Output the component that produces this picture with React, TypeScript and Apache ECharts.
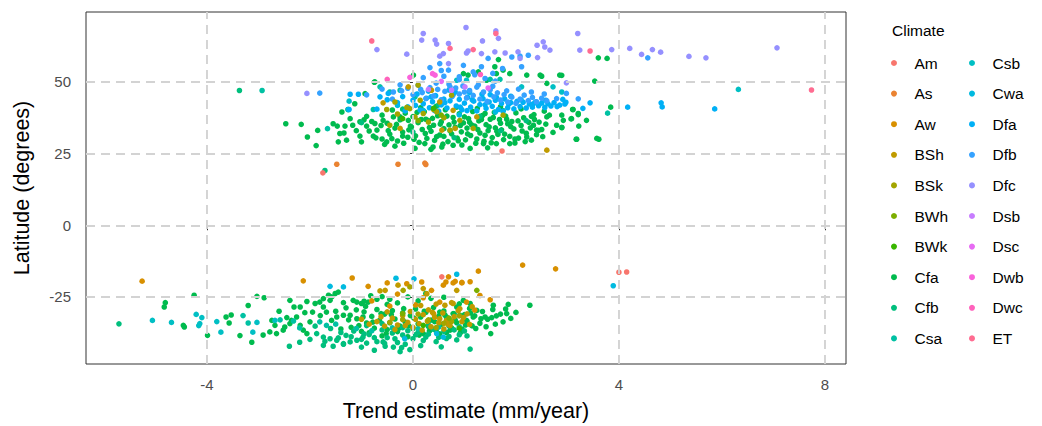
import React, { useEffect, useRef } from "react";
import * as echarts from "echarts";

const FONT = '"Liberation Sans", Arial, Helvetica, sans-serif';

const climates = ["Am","As","Aw","BSh","BSk","BWh","BWk","Cfa","Cfb","Csa","Csb","Cwa","Dfa","Dfb","Dfc","Dsb","Dsc","Dwb","Dwc","ET"];
const colors = ["#F8766D","#EA8331","#D89000","#C09B00","#A3A500","#7CAE00","#39B600","#00BB4E","#00BF7D","#00C1A3","#00BFC4","#00BAE0","#00B0F6","#35A2FF","#9590FF","#C77CFF","#E76BF3","#FA62DB","#FF62BC","#FF6C91"];

const xTicks = [-4, 0, 4, 8];
const yTicks = [-25, 0, 25, 50];

const Am = [[-1.75,18.3],[1.73,25.9],[0.56,-18.0],[4.0,-16.4],[4.15,-16.3]];
const As = [[-1.48,21.3],[-0.29,21.3],[0.23,21.7],[0.25,21.2]];
const Aw = [[-5.26,-19.5],[-2.13,-19.4],[-1.18,-18.4],[0.69,-18.0],[0.64,-19.8],[0.82,-19.6],[0.95,-19.9],[1.11,-19.7],[1.27,-16.0],[2.13,-13.9],[2.77,-15.2],[-0.87,-21.3],[-0.50,-20.1],[-0.12,-20.4],[0.17,-19.8],[0.36,-22.7],[0.59,-20.9],[0.78,-20.1],[0.95,-20.1],[1.04,-26.8],[0.52,-26.8],[1.3,-24.5],[1.5,-26.0],[-0.8,-26.4],[-0.3,-24.0],[0.2,-25.3],[0.05,-27.8],[-0.45,-28.2],[1.2,-29.6],[0.4,-30.8]];
const BSh = [[2.60,26.2],[-0.58,42.7],[-0.09,48.3],[0.36,47.1],[0.52,43.0],[0.78,40.1],[0.82,33.8],[-0.25,33.8],[0.56,33.2],[1.24,37.8],
  [-0.64,-22.9],[-0.54,-22.7],[-0.29,-20.9],[0.20,-22.1],[0.27,-23.9],[0.85,-22.7],[0.78,-27.3],[0.91,-29.1],[0.62,-27.9],
  [-0.7,-33.6],[-0.55,-35.2],[-0.4,-32.4],[-0.3,-34.8],[-0.2,-31.5],[-0.1,-33.9],[0.0,-35.6],[0.05,-32.8],[0.12,-34.3],[0.2,-31.2],[0.28,-33.5],[0.35,-35.4],[0.42,-32.1],[0.5,-34.0],[0.58,-30.6],[0.65,-33.2],[0.72,-35.0],[0.8,-31.9],[0.88,-29.8],[0.95,-33.6],[1.05,-30.9],[1.15,-28.4],[0.3,-29.5],[0.15,-28.0],[-0.5,-30.2],[-0.85,-34.5],[-1.0,-32.8],[0.6,-36.2],[0.45,-27.5],[0.75,-27.0],
  [-0.62,-31.9],[-0.35,-36.4],[-0.05,-30.1],[0.18,-36.6],[0.38,-30.4],[0.68,-34.6],[0.98,-32.2],[1.1,-34.6],[-0.15,-35.0],[0.52,-32.6]];
const BSk = [[-0.35,43.0],[-0.51,40.4],[0.10,48.9],[-0.06,40.7],[0.14,43.6],[0.20,39.0],[0.40,40.4],[0.46,39.6],[0.75,45.4],[1.17,33.8],[0.72,33.2],[-0.45,34.9],[-0.12,41.1],[0.04,37.8],[0.91,36.6],[1.75,38.4],[0.3,36.0],[-0.3,38.8],[0.6,37.5],
  [-0.06,-21.5],[-0.19,-22.7],[0.3,-33.0],[0.6,-34.2],[-0.2,-32.9],[0.1,-31.0],[0.45,-35.7],[0.9,-31.6],[-0.45,-33.9],[0.75,-33.6]];
const BWh = [[1.24,-22.7],[0.1,36.5],[0.55,38.4],[-0.2,-30.8],[0.7,-32.4]];
const BWk = [[0.4,40.8],[-0.2,37.2],[0.9,-35.9],[0.2,-34.9]];
const Cfa = [
  [-2.47,35.4],[-2.17,35.2],[-1.88,27.8],[-1.38,39.5],[-1.26,40.4],[-1.13,42.4],[-0.93,45.9],[-0.75,49.9],[-1.47,34.6],[-1.32,34.6],[-1.17,34.9],[-1.03,36.1],[-0.90,34.6],[-0.74,35.5],[-0.58,36.6],[-0.38,37.8],[-1.42,32.0],[-1.34,32.2],[-1.45,29.1],[-1.29,29.7],[-1.03,31.1],[-1.00,29.1],[-0.77,31.1],[-0.51,29.1],[-0.35,27.6],[-0.41,30.2],[-0.20,31.1],[-0.09,36.6],[-0.03,34.3],[-0.25,37.8],
  [0.01,52.4],[0.04,26.8],[0.23,28.5],[0.39,27.3],[0.56,27.3],[0.78,27.9],[1.11,26.8],[1.37,28.5],[1.62,28.5],[1.88,28.5],[1.98,28.7],[2.21,30.8],[2.34,34.9],[2.40,33.2],[2.60,37.8],[2.79,34.9],[2.92,36.6],[3.08,37.2],[3.11,40.4],[3.21,39.0],[2.89,34.1],[3.18,30.0],[3.37,36.6],[3.57,30.3],[2.47,52.4],[2.60,49.5],[2.21,52.4],[1.88,52.9],[1.75,54.1],[0.98,52.9],[1.07,52.4],[1.27,53.5],[1.43,50.6],[1.62,52.9],[1.59,55.3],[1.66,57.8],[2.89,52.3],[3.53,50.3],[3.60,58.4],[3.77,58.2],[3.10,40.4],[3.21,38.6],[3.07,37.1],[2.89,38.4],[2.89,34.1],[3.22,34.6],[3.17,30.0],[3.61,30.0],[3.84,41.2],[-0.74,50.0],[2.50,52.0],[2.85,52.4],
  [-0.7,33.2],[-0.6,30.1],[-0.6,38.4],[-0.5,35.6],[-0.45,31.8],[-0.4,40.2],[-0.35,33.9],[-0.3,29.4],[-0.25,36.8],[-0.2,32.5],[-0.15,39.1],[-0.1,30.7],[-0.05,34.6],[0.0,37.9],[0.05,31.2],[0.1,35.8],[0.12,28.9],[0.18,33.4],[0.22,39.6],[0.27,30.3],[0.3,36.5],[0.35,32.8],[0.4,34.9],[0.42,29.6],[0.48,38.2],[0.52,31.5],[0.55,36.1],[0.6,33.7],[0.63,40.3],[0.68,29.2],[0.7,35.0],[0.75,31.9],[0.78,37.6],[0.82,34.2],[0.86,30.4],[0.9,38.9],[0.94,32.6],[0.98,35.7],[1.02,29.8],[1.05,33.9],[1.08,37.2],[1.12,31.3],[1.16,39.7],[1.2,34.6],[1.24,30.1],[1.28,36.4],[1.3,32.2],[1.35,38.3],[1.38,29.3],[1.42,35.1],[1.46,33.0],[1.5,37.0],[1.54,30.6],[1.58,39.4],[1.6,34.0],[1.65,31.7],[1.68,36.9],[1.72,33.3],[1.76,29.9],[1.8,38.1],[1.84,35.4],[1.88,31.0],[1.92,36.2],[1.96,33.6],[2.0,39.2],[2.05,30.4],[2.1,34.8],[2.15,37.5],[2.2,32.1],[2.25,35.9],[2.3,29.7],[2.35,38.6],[2.4,31.6],[2.45,36.0],[2.5,33.4],[2.55,39.8],[0.15,41.0],[0.45,41.5],[0.85,41.2],[1.25,40.8],[1.7,41.4],[2.1,40.6],[0.35,26.5],[0.95,28.0],[1.45,27.0],[-0.8,36.2],[-0.9,38.0],
  [-0.55,28.2],[-0.48,33.0],[-0.32,35.2],[-0.18,28.6],[-0.08,33.3],[0.02,30.0],[0.08,39.4],[0.16,36.9],[0.24,32.0],[0.32,34.1],[0.38,37.3],[0.46,30.9],[0.53,35.3],[0.58,28.3],[0.66,38.1],[0.72,33.0],[0.8,36.0],[0.88,29.5],[0.92,34.8],[1.0,37.8],[1.06,31.9],[1.14,35.0],[1.22,28.6],[1.26,33.4],[1.33,36.9],[1.4,31.4],[1.48,34.3],[1.52,28.8],[1.56,37.6],[1.63,32.8],[1.7,35.6],[1.78,31.8],[1.82,37.0],[1.9,34.4],[1.98,30.1],[2.04,36.4],[2.12,32.9],[2.18,29.2],[2.28,34.0],[2.36,36.9],[2.44,33.1],[2.52,30.9],[2.58,35.3],[2.65,38.4],[2.72,32.4],[-0.62,34.8],[-0.72,30.5],[-0.85,32.9],[-0.95,36.8],[-1.1,33.0],[-1.22,37.2],[-1.55,35.4],[-1.85,33.1],[-2.05,30.8],[0.25,37.0],[0.6,31.0],[1.1,35.9],[1.4,39.0],[1.75,40.0],[2.3,38.0],
  [-4.25,-24.4],[-4.81,-27.0],[-4.83,-28.5],[-4.46,-34.9],[-4.44,-35.5],[-3.99,-38.4],[-3.63,-32.0],[-3.53,-31.3],[-3.57,-34.1],[-3.36,-38.5],[-3.13,-40.8],[-2.91,-38.3],[-3.03,-24.8],[-2.89,-25.3],
  [-2.74,-33.2],[-2.68,-34.9],[-2.45,-32.2],[-2.49,-35.5],[-2.39,-26.2],[-2.31,-28.5],[-2.19,-28.5],[-2.06,-26.6],[-2.78,-37.2],[-2.65,-37.8],[-2.52,-36.6],[-2.39,-34.3],[-2.36,-33.2],[-2.26,-32.0],[-2.19,-34.9],[-2.13,-36.6],[-2.06,-37.8],[-2.00,-33.7],[-1.95,-30.3],[-1.90,-27.3],[-1.81,-26.8],[-1.74,-25.6],[-1.64,-24.4],[-1.58,-25.0],[-1.51,-23.8],[-1.45,-23.3],[-1.74,-28.5],[-1.61,-26.2],[-1.68,-30.3],[-1.58,-33.2],[-1.48,-32.0],[-1.35,-31.4],[-1.22,-31.4],[-1.09,-32.6],[-0.97,-32.0],[-1.16,-26.2],[-1.09,-26.8],[-1.00,-27.3],[-0.87,-26.8],
  [-0.95,-30.2],[-0.9,-34.1],[-0.85,-37.5],[-0.8,-31.8],[-0.75,-35.9],[-0.7,-29.4],[-0.65,-33.2],[-0.6,-38.6],[-0.55,-31.0],[-0.5,-36.4],[-0.45,-34.0],[-0.4,-29.8],[-0.35,-32.7],[-0.3,-37.1],[-0.25,-35.2],[-0.2,-30.6],[-0.15,-33.8],[-0.1,-38.9],[-0.05,-31.5],[0.0,-36.0],[0.05,-29.2],[0.1,-34.4],[0.15,-32.0],[0.2,-37.8],[0.25,-30.4],[0.3,-35.3],[0.35,-33.1],[0.4,-28.7],[0.45,-36.7],[0.5,-31.7],[0.55,-34.6],[0.6,-29.9],[0.65,-37.4],[0.7,-32.8],[0.75,-35.8],[0.8,-30.9],[0.85,-34.0],[0.9,-27.4],[0.95,-36.2],[1.0,-31.2],[1.05,-33.5],[1.1,-29.0],[1.15,-35.1],[1.2,-31.6],[1.3,-34.2],[1.35,-30.1],[1.45,-32.8],[1.55,-29.4],[1.6,-34.5],[1.7,-31.0],[1.8,-29.2],[1.9,-32.5],[2.0,-30.4],[-0.95,-26.5],[-0.7,-25.8],[-0.5,-27.6],[-1.3,-28.8],[-1.1,-29.5],[-1.2,-35.6],[-1.0,-37.0],[-1.4,-36.2],[-0.6,-24.9],[-0.3,-27.1],[0.1,-26.4],[0.35,-25.5],[0.6,-25.1],
  [1.85,-27.6],[1.82,-30.8],[1.75,-33.7],[1.56,-27.9],[1.53,-32.2],[1.40,-32.0],[1.51,-37.8],[2.27,-27.9],[1.24,-29.7],[1.17,-32.0],[1.04,-33.2],[0.91,-31.4],[0.85,-28.5],[0.98,-26.2],[1.11,-27.3],[0.78,-30.8],[0.65,-32.0],[0.52,-30.3],
  [-1.25,-33.0],[-1.05,-35.0],[-0.92,-28.3],[-0.78,-33.8],[-0.62,-30.8],[-0.52,-37.8],[-0.42,-31.2],[-0.28,-36.0],[-0.18,-29.1],[-0.08,-35.1],[0.02,-32.4],[0.12,-38.3],[0.22,-30.0],[0.32,-36.9],[0.42,-33.6],[0.52,-37.9],[0.62,-31.3],[0.72,-36.6],[0.82,-33.0],[0.92,-37.5],[1.02,-34.8],[1.12,-30.6],[1.22,-36.0],[1.32,-32.6],[1.42,-35.4],[1.62,-31.6],[-1.5,-30.0],[-1.8,-31.5],[-2.1,-30.5],[-1.35,-27.0],[-0.82,-24.6],[-0.45,-25.8],[-0.1,-25.0],[0.25,-23.8],[-2.6,-30.0],[-3.2,-28.0]
];
const Cfb = [[-3.37,47.0],[-1.71,19.1],[-0.2,40.5],[0.5,42.0],[1.3,38.0],[2.2,36.5],[0.0,32.5],[-1.0,35.8],[1.7,33.0],[0.8,30.6],
  [-1.3,-38.4],[-1.15,-36.9],[-1.0,-39.8],[-0.85,-38.1],[-0.7,-40.6],[-0.6,-36.5],[-0.5,-39.2],[-0.4,-37.6],[-0.3,-40.9],[-0.2,-38.3],[-0.1,-36.8],[0.0,-39.6],[0.1,-37.3],[0.2,-40.2],[0.3,-38.0],[0.4,-36.3],[0.5,-39.1],[0.6,-37.0],[0.7,-38.8],[0.8,-36.5],[0.9,-38.2],[1.0,-36.9],[-0.9,-35.0],[-0.6,-34.3],[-0.2,-35.7],[0.3,-34.8],[0.7,-35.1],[-1.6,-36.0],[-1.9,-35.2],[-0.06,-43.4],[-0.22,-42.7],[-0.38,-42.5],[-0.54,-42.2],[-0.58,-40.7],[-0.90,-41.1],[1.11,-43.2],[-5.71,-34.4],[-1.71,-40.5],[-1.45,-39.3],
  [-1.87,-37.8],[-1.74,-39.0],[-1.61,-39.6],[-1.48,-40.1],[-1.35,-41.3],[-1.22,-40.7],[-1.09,-40.1],[-0.97,-39.0],[-1.74,-41.9],[-1.55,-42.2],[-1.35,-41.5],[-2.40,-42.2],
  [-1.4,-37.4],[-1.2,-38.9],[-0.95,-37.9],[-0.75,-39.2],[-0.55,-41.2],[-0.35,-39.6],[-0.15,-41.5],[0.05,-38.2],[0.25,-39.0],[0.45,-40.6],[0.65,-39.5],[0.85,-40.0],[1.05,-38.6],[-1.0,-42.5],[-0.75,-43.6],[-0.25,-44.1],[0.15,-42.0],[0.55,-42.4],[-2.0,-39.8],[-2.2,-40.8]];
const Csa = [[-1.66,33.7],[-2.93,47.0],[-0.77,40.4],[-0.64,48.3],[-0.45,46.5],[-0.25,47.1],[0.04,44.8],[3.78,39.1],[1.50,50.9],[1.69,50.9],
  [-1.5,-34.5],[-1.1,-36.0],[-0.8,-36.8],[-0.4,-35.8],[0.1,-36.1],[0.5,-35.5],[0.9,-35.4],[-2.2,-35.8],[-2.58,-33.0],[-2.32,-33.4],[-1.81,-33.7],[-1.68,-34.9],[-3.30,-31.5],[-3.20,-34.1]];
const Csb = [[2.11,48.3],[2.89,46.5],[2.72,48.3],[0.85,50.6],[1.04,50.6],[6.32,47.4],[-1.24,43.3],[-1.26,40.4],
  [-5.06,-33.2],[-4.69,-33.9],[-4.21,-31.1],[-4.10,-32.2],[-4.14,-34.3],[-4.16,-35.0],[-3.81,-33.6],[-3.73,-37.3],[-3.03,-33.9],[-3.11,-37.3],[-2.68,-33.2]];
const Cwa = [[0.2,40.1],[0.9,38.5],[-0.3,41.8],[1.6,39.5],
  [-0.33,-18.5],[0.02,-18.7],[0.85,-17.1],[3.89,-21.1],[-1.35,-21.5],[-1.61,-21.3],[-0.16,-39.6],[0.46,-37.8],[0.59,-39.0]];
const Dfa = [[-0.3,42.8],[-0.2,44.9],[-0.1,41.3],[0.0,43.6],[0.08,45.8],[0.14,40.2],[0.2,42.4],[0.26,44.3],[0.32,41.0],[0.38,43.1],[0.44,45.2],[0.5,39.8],[0.55,42.0],[0.6,44.0],[0.66,40.9],[0.72,43.4],[0.78,45.5],[0.84,41.6],[0.9,43.9],[0.95,40.3],[1.0,42.6],[1.06,44.7],[1.12,41.2],[1.18,43.3],[1.24,39.9],[1.3,42.1],[1.36,44.2],[1.42,40.8],[1.48,43.0],[1.54,41.5],[1.6,43.6],[1.66,40.4],[1.72,42.5],[1.78,44.1],[1.84,41.0],[1.9,42.8],[1.96,40.6],[2.02,43.2],[2.08,41.4],[2.14,42.9],[2.2,40.9],[2.26,42.3],[2.32,41.2],[2.38,43.0],[2.44,41.7],[2.5,42.6],[2.56,41.1],[2.62,42.4],[2.68,41.6],[2.74,42.8],[2.85,41.9],[2.95,42.3],[0.3,46.8],[0.7,47.2],[1.1,46.4],[-0.5,43.8],[-0.64,44.8],[-1.22,45.7],[-1.06,45.7],[-1.24,40.4],[-0.48,46.0],[4.17,41.2],[4.82,42.7],[4.84,41.3],[5.86,40.6],[3.44,42.7],[3.30,40.8],[2.97,42.9],[2.91,43.9],[-0.7,40.5],[1.5,45.6],[1.9,45.0],
  [0.05,41.8],[0.35,44.8],[0.62,42.8],[0.92,41.2],[1.15,43.8],[1.4,42.0],[1.62,44.7],[1.86,42.3],[2.1,43.8],[2.34,42.4],[2.58,43.6],[2.8,41.4],[0.82,46.5],[1.34,45.7],[-0.15,39.9],[0.42,40.0],[1.05,40.0],[1.75,39.8]];
const Dfb = [[-1.81,46.1],[-0.38,46.5],[-0.22,46.9],[-0.4,44.0],[-0.1,47.8],[0.0,45.6],[0.1,48.9],[0.18,46.3],[0.25,44.2],[0.33,48.0],[0.4,45.1],[0.48,47.4],[0.55,43.8],[0.62,46.7],[0.7,49.2],[0.76,44.9],[0.83,47.9],[0.9,45.8],[0.97,48.6],[1.04,44.4],[1.1,47.0],[1.17,45.3],[1.24,48.2],[1.3,44.0],[1.37,46.5],[1.44,43.2],[1.5,47.3],[1.57,44.8],[1.64,46.2],[1.7,43.7],[1.77,45.6],[1.84,43.0],[1.92,44.7],[2.0,42.5],[2.08,44.0],[2.16,45.4],[2.24,43.5],[2.32,44.6],[2.4,43.1],[2.5,44.3],[2.6,43.4],[2.79,44.2],[2.98,46.0],[3.21,44.1],[0.33,55.0],[0.52,56.4],[0.69,54.1],[0.98,55.8],[1.17,53.5],[1.33,55.3],[1.46,58.2],[1.55,53.0],[1.74,54.7],[1.92,58.7],[2.08,59.0],[2.11,55.3],[2.24,59.3],[4.56,58.4],[0.2,51.5],[0.6,52.0],[0.9,50.8],[1.4,51.2],[-0.6,47.5],[-0.9,45.5],
  [0.15,47.4],[0.45,49.6],[0.72,48.3],[1.0,46.5],[1.27,49.0],[1.55,48.5],[1.82,46.9],[2.05,47.5],[2.3,46.5],[2.55,45.8],[-0.25,49.0],[0.9,51.8],[1.6,50.3],[1.2,52.5],[0.55,54.0]];
const Dfc = [[-0.12,59.7],[0.20,66.9],[0.17,64.6],[0.43,64.6],[0.46,63.2],[0.69,63.4],[0.52,59.0],[0.59,59.9],[0.69,56.4],[1.04,60.1],[1.07,60.8],[1.33,59.9],[1.35,64.3],[1.59,60.5],[1.61,67.8],[1.66,65.2],[1.79,60.1],[2.04,60.5],[2.08,58.2],[2.41,62.8],[2.53,64.0],[2.56,62.2],[2.66,61.1],[2.42,58.5],[3.20,66.9],[3.24,61.1],[2.98,49.7],[3.86,61.3],[4.21,61.7],[4.44,59.6],[4.65,61.3],[4.81,60.4],[5.36,58.9],[5.69,58.4],[7.07,61.9],[-2.06,46.0],[-0.70,61.3],[1.03,69.0]];
const Dsb = [[0.30,47.4],[0.75,47.1],[1.01,48.3]];
const Dsc = [[1.46,47.9],[0.55,50.2]];
const Dwb = [[-0.06,51.6],[0.38,52.9],[0.43,52.4]];
const Dwc = [[-0.50,50.9],[1.31,52.6]];
const ET = [[-0.80,64.3],[0.72,61.7],[1.17,61.3],[1.61,66.9],[3.44,60.8],[7.74,47.2]];

const seriesData: Record<string, number[][]> = { Am, As, Aw, BSh, BSk, BWh, BWk, Cfa, Cfb, Csa, Csb, Cwa, Dfa, Dfb, Dfc, Dsb, Dsc, Dwb, Dwc, ET };
const drawOrder = ["Cfa","Cfb","Csa","Csb","Cwa","Aw","Dfa","Dfb","BSh","BSk","BWh","BWk","Dfc","Dsb","Dsc","Dwb","Dwc","ET","Am","As"];

export default function App() {
  const ref = useRef<HTMLDivElement>(null);
  useEffect(() => {
    document.body.style.margin = "0";
    if (!ref.current) return;
    const chart = echarts.init(ref.current, null, { renderer: "svg" });
    const gridLine = { type: [9, 6], color: "#D3D3D3", width: 1.9 };
    const series: any[] = [
      {
        type: "scatter",
        name: "__grid",
        data: [],
        z: 0,
        silent: true,
        markLine: {
          silent: true,
          symbol: "none",
          animation: false,
          label: { show: false },
          lineStyle: gridLine,
          data: [
            ...xTicks.map((v) => ({ xAxis: v })),
            ...yTicks.map((v) => ({ yAxis: v })),
          ],
        },
      },
      ...drawOrder.map((name) => ({
        type: "scatter",
        name,
        data: seriesData[name],
        symbolSize: 5.6,
        z: 2,
        itemStyle: { color: colors[climates.indexOf(name)], opacity: 1 },
      })),
    ];
    const legendBase = {
      orient: "vertical",
      top: 55,
      itemWidth: 31,
      itemHeight: 6,
      itemGap: 14.6,
      icon: "circle",
      padding: 0,
      selectedMode: false,
      textStyle: { fontSize: 15.5, lineHeight: 16, color: "#000", fontFamily: FONT },
    };
    chart.setOption({
      animation: false,
      backgroundColor: "#fff",
      textStyle: { fontFamily: FONT },
      title: {
        text: "Climate",
        left: 892,
        top: 22,
        padding: 0,
        textStyle: { fontSize: 15.5, fontWeight: "normal", color: "#000", fontFamily: FONT },
      },
      legend: [
        { ...legendBase, left: 891, data: climates.slice(0, 10) },
        { ...legendBase, left: 969, data: climates.slice(10) },
      ],
      grid: {
        left: 86,
        right: 196,
        top: 12,
        bottom: 62,
        show: true,
        borderColor: "#333333",
        borderWidth: 1,
        backgroundColor: "#fff",
        outerBoundsMode: "none",
      },
      xAxis: {
        type: "value",
        min: -6.35,
        max: 8.41,
        name: "Trend estimate (mm/year)",
        nameLocation: "middle",
        nameGap: 36,
        nameTextStyle: { fontSize: 21.5, color: "#000", fontFamily: FONT },
        axisLine: { show: false },
        splitLine: { show: false },
        axisTick: { show: true, customValues: xTicks, length: 5, lineStyle: { color: "#333", width: 1 } },
        axisLabel: { customValues: xTicks, margin: 13, fontSize: 15, color: "#4D4D4D", fontFamily: FONT },
      },
      yAxis: {
        type: "value",
        min: -48.4,
        max: 74.4,
        name: "Latitude (degrees)",
        nameLocation: "middle",
        nameGap: 53,
        nameTextStyle: { fontSize: 21.5, color: "#000", fontFamily: FONT },
        axisLine: { show: false },
        splitLine: { show: false },
        axisTick: { show: true, customValues: yTicks, length: 5, lineStyle: { color: "#333", width: 1 } },
        axisLabel: { customValues: yTicks, margin: 15, fontSize: 15, color: "#4D4D4D", fontFamily: FONT },
      },
      series,
    });
    return () => chart.dispose();
  }, []);
  return <div ref={ref} style={{ width: 1042, height: 426 }} />;
}
